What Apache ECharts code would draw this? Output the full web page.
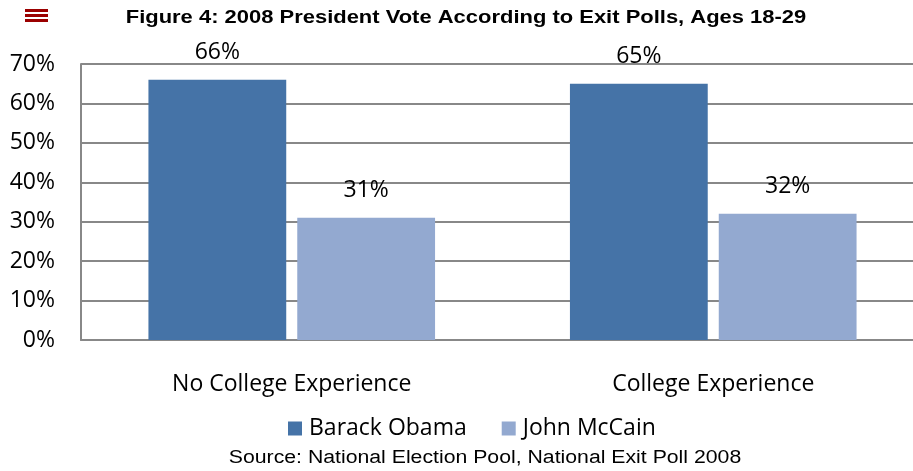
<!DOCTYPE html>
<html>
<head>
<meta charset="utf-8">
<script src="https://cdn.jsdelivr.net/npm/echarts@6/dist/echarts.min.js"></script>
<style>
  html, body { margin: 0; padding: 0; background: #fff; }
  #chart { width: 913px; height: 471px; }
</style>
</head>
<body>
<div id="chart"></div>
<script>
var categories = ['No College Experience', 'College Experience'];
var obama = [66, 65];
var mccain = [31, 32];
var seriesNames = ['Barack Obama', 'John McCain'];
var titleText = 'Figure 4: 2008 President Vote According to Exit Polls, Ages 18-29';
var sourceText = 'Source: National Election Pool, National Exit Poll 2008';

var chart = echarts.init(document.getElementById('chart'));
var labelFont = '"Open Sans", Lato, sans-serif';

var option = {
    animation: false,
    backgroundColor: '#fff',
    graphic: [
        // little menu icon, top left
        {type: 'rect', shape: {x: 25, y: 9, width: 23, height: 3}, style: {fill: '#9b0000'}},
        {type: 'rect', shape: {x: 25, y: 14, width: 23, height: 3}, style: {fill: '#9b0000'}},
        {type: 'rect', shape: {x: 25, y: 19, width: 23, height: 3}, style: {fill: '#9b0000'}},
        // title and source are a bit wide in the original, so stretch them
        {
            type: 'text', x: 466, y: 18, scaleX: 1.22,
            style: {
                text: titleText, textAlign: 'center', textVerticalAlign: 'middle',
                font: 'bold 18px Arial, sans-serif', fill: '#000'
            }
        },
        {
            type: 'text', x: 485, y: 458, scaleX: 1.18,
            style: {
                text: sourceText, textAlign: 'center', textVerticalAlign: 'middle',
                font: '18px Arial, sans-serif', fill: '#000'
            }
        }
    ],
    legend: {
        data: seriesNames,
        top: 412,
        left: 283,
        itemWidth: 14,
        itemHeight: 14,
        itemGap: 35,
        icon: 'rect',
        textStyle: {
            fontFamily: labelFont,
            fontSize: 23,
            color: '#000',
            padding: [0, 0, 0, 2]
        }
    },
    grid: {
        left: 81,
        width: 843,
        top: 64,
        bottom: 131,
        outerBoundsMode: 'none'
    },
    xAxis: {
        type: 'category',
        data: categories,
        axisLine: {lineStyle: {color: '#888', width: 2}},
        axisTick: {show: false},
        axisLabel: {
            margin: 33,
            fontFamily: labelFont,
            fontSize: 23,
            color: '#000'
        }
    },
    yAxis: {
        type: 'value',
        min: 0,
        max: 70,
        interval: 10,
        axisLine: {show: true, lineStyle: {color: '#888', width: 2}},
        axisTick: {show: false},
        splitLine: {lineStyle: {color: '#888', width: 2}},
        axisLabel: {
            formatter: '{value}%',
            margin: 26,
            fontFamily: labelFont,
            fontSize: 23,
            color: '#000'
        }
    },
    series: [{
        name: seriesNames[0],
        type: 'bar',
        data: obama,
        itemStyle: {color: '#4573A7'},
        barGap: '8%',
        barCategoryGap: '32%',
        label: {
            show: true,
            position: 'top',
            distance: 16,
            formatter: '{c}%',
            fontFamily: labelFont,
            fontSize: 23,
            color: '#000'
        }
    }, {
        name: seriesNames[1],
        type: 'bar',
        data: mccain,
        itemStyle: {color: '#93A9D0'},
        barGap: '8%',
        barCategoryGap: '32%',
        label: {
            show: true,
            position: 'top',
            distance: 16,
            formatter: '{c}%',
            fontFamily: labelFont,
            fontSize: 23,
            color: '#000'
        }
    }]
};

chart.setOption(option);
</script>
</body>
</html>
